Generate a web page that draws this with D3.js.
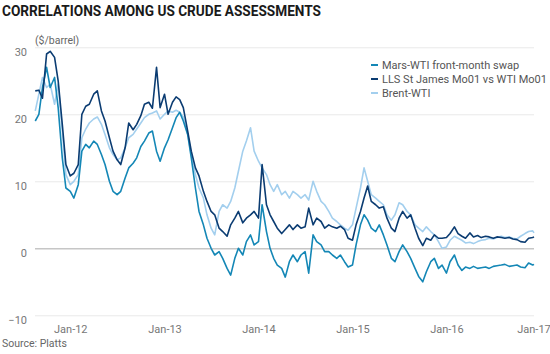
<!DOCTYPE html>
<html>
<head>
<meta charset="utf-8">
<script src="https://cdn.jsdelivr.net/npm/d3@7"></script>
<style>
  body { margin: 0; background: #fff; }
  text { font-family: Roboto, "Noto Sans", sans-serif; }
</style>
</head>
<body>
<script>
// metrics
const width = 550, height = 354;
const plotLeft = 35, plotRight = 534, plotTop = 47.3, plotBottom = 315.3;

// data
const seriesNames = ["Mars-WTI front-month swap", "LLS St James Mo01 vs WTI Mo01", "Brent-WTI"];
const seriesColors = ["#1487b6", "#0b3c72", "#a3cfee"];
const yTicks = [-10, 0, 10, 20, 30];
const xTickLabels = ["Jan-12", "Jan-13", "Jan-14", "Jan-15", "Jan-16"];
const lastLabel = "Jan-17";

const dates = [
  "2011-08-18", "2011-09-01", "2011-09-15", "2011-10-01", "2011-10-15", "2011-11-01", "2011-11-15", "2011-12-01", "2011-12-15",
  "2012-01-01", "2012-01-15", "2012-02-01", "2012-02-15", "2012-03-01", "2012-03-15", "2012-04-01", "2012-04-15",
  "2012-05-01", "2012-05-15", "2012-06-01", "2012-06-15", "2012-07-01", "2012-07-15", "2012-08-01", "2012-08-15",
  "2012-09-01", "2012-09-15", "2012-10-01", "2012-10-15", "2012-11-01", "2012-11-15", "2012-12-01", "2012-12-15",
  "2013-01-01", "2013-01-15", "2013-02-01", "2013-02-15", "2013-03-01", "2013-03-15", "2013-04-01", "2013-04-15",
  "2013-05-01", "2013-05-15", "2013-06-01", "2013-06-15", "2013-07-01", "2013-07-15", "2013-08-01", "2013-08-15",
  "2013-09-01", "2013-09-15", "2013-10-01", "2013-10-15", "2013-11-01", "2013-11-15", "2013-12-01", "2013-12-15",
  "2014-01-01", "2014-01-15", "2014-02-01", "2014-02-15", "2014-03-01", "2014-03-15", "2014-04-01", "2014-04-15",
  "2014-05-01", "2014-05-15", "2014-06-01", "2014-06-15", "2014-07-01", "2014-07-15", "2014-08-01", "2014-08-15",
  "2014-09-01", "2014-09-15", "2014-10-01", "2014-10-15", "2014-11-01", "2014-11-15", "2014-12-01", "2014-12-15",
  "2015-01-01", "2015-01-15", "2015-02-01", "2015-02-15", "2015-03-01", "2015-03-15", "2015-04-01", "2015-04-15",
  "2015-05-01", "2015-05-15", "2015-06-01", "2015-06-15", "2015-07-01", "2015-07-15", "2015-08-01", "2015-08-15",
  "2015-09-01", "2015-09-15", "2015-10-01", "2015-10-15", "2015-11-01", "2015-11-15", "2015-12-01", "2015-12-15",
  "2016-01-01", "2016-01-15", "2016-02-01", "2016-02-15", "2016-03-01", "2016-03-15", "2016-04-01", "2016-04-15",
  "2016-05-01", "2016-05-15", "2016-06-01", "2016-06-15", "2016-07-01", "2016-07-15", "2016-08-01", "2016-08-15",
  "2016-09-01", "2016-09-15", "2016-10-01", "2016-10-15", "2016-11-01", "2016-11-15", "2016-12-01", "2016-12-06"
];

const mars = [
  19.0, 20.0, 24.0, 27.0, 24.0, 25.5, 21.0, 13.5, 9.0,
  8.5, 7.5, 9.5, 14.5, 15.5, 15.0, 16.0, 15.5, 14.0, 12.5, 10.0, 8.5, 8.0, 8.5, 10.5, 12.0, 12.7, 13.5, 15.2, 16.0, 17.2, 17.5, 14.5, 13.0,
  15.0, 16.2, 18.0, 19.5, 20.3, 19.0, 17.0, 13.5, 9.0, 5.5, 3.5, 1.5, 0.0, -1.0, -0.5, -1.5, -3.0, -4.0, -1.5, 0.0, -1.0, 1.0, 2.0, 0.5,
  1.0, 6.5, 2.5, 0.0, -1.5, -2.5, -3.0, -4.3, -2.0, -1.0, -2.0, -1.0, -0.5, -3.7, 2.0, 1.0, 0.5, -0.5, -0.5, -1.0, -1.5, -1.0, -2.0, -2.8,
  -2.5, 0.5, 3.5, 5.0, 4.2, 3.0, 2.5, 3.5, 2.0, 0.5, -1.5, -2.0, -0.5, 0.5, -0.5, -1.5, -3.0, -4.2, -5.0, -3.5, -2.0, -1.5, -3.0, -2.5,
  -3.7, -2.0, -1.0, -2.5, -3.3, -2.8, -3.0, -2.7, -3.0, -2.9, -2.8, -3.0, -2.7, -2.6, -2.5, -2.4, -2.7, -2.6, -2.5, -2.8, -2.9, -2.2, -2.5, -2.4
];

const lls = [
  23.5, 23.6, 22.4, 29.0, 29.4, 28.5, 25.0, 18.5, 12.5,
  10.8, 11.2, 12.5, 20.0, 21.2, 21.5, 23.0, 23.5, 20.5, 19.0, 16.5, 14.5, 13.2, 12.5, 15.0, 18.7, 17.7, 18.5, 19.8, 21.5, 21.8, 20.9, 27.0, 21.0,
  23.0, 20.0, 21.8, 22.6, 22.2, 21.0, 17.5, 14.5, 12.0, 10.8, 8.5, 7.0, 5.5, 5.0, 3.0, 2.5, 1.8, 3.5, 4.5, 5.5, 3.8, 4.5, 5.0, 5.5,
  4.5, 12.5, 6.5, 5.0, 4.0, 3.0, 2.2, 2.8, 3.5, 2.8, 3.5, 3.0, 3.2, 6.0, 3.5, 4.5, 4.0, 3.0, 3.5, 3.2, 3.0, 3.3, 2.8, 1.5,
  1.2, 3.5, 5.5, 7.5, 9.3, 7.0, 6.5, 6.0, 6.2, 4.5, 3.0, 2.5, 4.5, 5.5, 4.5, 5.0, 3.0, 1.5, 0.4, 1.5, 1.2, 2.0, 1.5, 1.5,
  1.6, 2.2, 3.2, 2.2, 1.8, 1.5, 2.3, 1.7, 1.9, 1.6, 1.8, 1.7, 1.5, 1.7, 1.6, 1.5, 1.6, 1.4, 1.3, 1.0, 0.9, 1.5, 1.6, 1.7
];

const brent = [
  20.5, 23.0, 25.5, 24.0, 24.5, 21.5, 24.5, 17.5, 11.0,
  9.5, 10.0, 11.0, 16.5, 17.8, 18.7, 19.3, 19.6, 18.5, 17.0, 15.0, 14.0, 13.2, 13.5, 15.0, 16.5, 17.0, 17.8, 18.7, 19.5, 20.0, 20.2, 20.5, 19.3,
  20.0, 20.5, 20.3, 20.6, 20.3, 19.6, 17.0, 14.0, 11.0, 9.0, 7.5, 5.0, 3.0, 2.0, 5.5, 6.5, 6.0, 7.0, 9.0, 11.5, 14.5, 16.0, 18.0, 14.5,
  13.0, 12.0, 11.0, 9.5, 8.5, 9.5, 8.0, 8.5, 7.5, 8.5, 8.0, 7.5, 8.0, 7.2, 10.0, 8.5, 7.0, 6.5, 5.5, 4.5, 4.0, 3.5, 3.0, 2.7,
  3.5, 6.0, 9.0, 12.0, 10.0, 8.0, 7.5, 7.0, 6.5, 5.0, 4.2, 5.0, 6.8, 6.5, 5.5, 5.0, 3.5, 3.0, 2.5, 3.2, 2.5, 2.0, 1.0, 0.0,
  0.2, 1.2, 1.8, 1.5, 1.2, 0.8, 0.9, 0.7, 1.0, 1.2, 1.3, 1.5, 1.4, 1.6, 1.8, 1.6, 1.7, 1.5, 1.4, 1.8, 2.2, 2.5, 2.6, 2.3
];

// parsers
const parseDate = d3.timeParse("%Y-%m-%d");
const xDates = dates.map(parseDate);

// elements
const svg = d3.select("body").append("svg")
  .attr("width", width)
  .attr("height", height);

// scales
const xScale = d3.scaleTime()
  .domain([parseDate("2011-08-17"), parseDate("2016-12-06")])
  .range([plotLeft, plotRight]);
const yScale = d3.scaleLinear()
  .domain([-10, 30])
  .range([plotBottom, plotTop]);

// title
svg.append("text")
  .attr("x", 2).attr("y", 15.5)
  .attr("font-size", 15.5).attr("font-weight", 700)
  .attr("fill", "#1a1a1a")
  .attr("textLength", 319).attr("lengthAdjust", "spacingAndGlyphs")
  .text("CORRELATIONS AMONG US CRUDE ASSESSMENTS");

svg.append("text")
  .attr("x", 35).attr("y", 44)
  .attr("font-size", 10.5).attr("fill", "#666")
  .text("($/barrel)");

// y grid + labels
const yAxis = svg.append("g")
  .attr("transform", `translate(${plotLeft},0)`)
  .call(d3.axisLeft(yScale).tickValues(yTicks).tickSize(-(plotRight - plotLeft)).tickPadding(8));
yAxis.select(".domain").remove();
yAxis.selectAll(".tick line")
  .attr("stroke", d => d === 0 ? "#c6c6c6" : "#e9e9e9")
  .attr("stroke-width", d => d === 0 ? 1.6 : 1);
yAxis.selectAll(".tick text")
  .attr("font-family", "Roboto, sans-serif")
  .attr("font-size", 11).attr("fill", "#777")
  .attr("dy", "0.75em");

// x labels
const xAxis = svg.append("g")
  .attr("transform", `translate(0,${plotBottom})`)
  .call(d3.axisBottom(xScale)
    .tickValues(xTickLabels.map(d => d3.timeParse("%b-%y")(d)))
    .tickFormat(d3.timeFormat("%b-%y"))
    .tickSize(0).tickPadding(10));
xAxis.select(".domain").remove();
xAxis.selectAll(".tick text")
  .attr("font-family", "Roboto, sans-serif")
  .attr("font-size", 11).attr("fill", "#777");
svg.append("text")
  .attr("x", plotRight).attr("y", plotBottom + 10).attr("dy", "0.71em")
  .attr("text-anchor", "middle")
  .attr("font-size", 11).attr("fill", "#777")
  .text(lastLabel);

// lines
const line = d3.line()
  .x((d, i) => xScale(xDates[i]))
  .y(d => yScale(d));
const seriesValues = [mars, lls, brent];
[2, 0, 1].forEach(i => {
  svg.append("path")
    .datum(seriesValues[i])
    .attr("fill", "none")
    .attr("stroke", seriesColors[i])
    .attr("stroke-width", 1.6)
    .attr("stroke-linejoin", "round")
    .attr("d", line);
});

// legend
const legend = svg.append("g").attr("transform", "translate(371,65)");
seriesNames.forEach((name, i) => {
  const row = legend.append("g").attr("transform", `translate(0,${i * 14})`);
  row.append("line")
    .attr("x1", 0).attr("x2", 7)
    .attr("stroke", seriesColors[i]).attr("stroke-width", 2);
  row.append("text")
    .attr("x", 11).attr("dy", "0.35em")
    .attr("font-size", 11).attr("fill", "#555")
    .text(name);
});

// source
svg.append("text")
  .attr("x", 2).attr("y", 347)
  .attr("font-size", 10.5).attr("fill", "#666")
  .text("Source: Platts");
</script>
</body>
</html>
